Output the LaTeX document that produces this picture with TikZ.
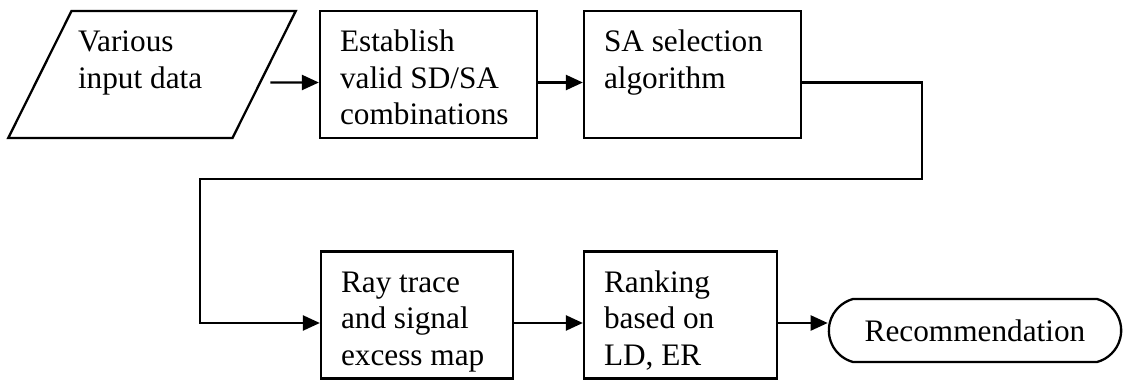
\documentclass[tikz,border=0pt]{standalone}
\usepackage{fontspec}
\setmainfont{Liberation Serif}
\usetikzlibrary{shapes.geometric,shapes.misc,arrows.meta}
\newcommand{\steptext}[2]{\begin{minipage}[t][1.94cm][t]{#1}\raggedright\strut #2\end{minipage}}

\begin{document}
\begin{tikzpicture}[scale=1]
 \tikzstyle{stepbox}=[rectangle, draw, line width=1.3pt, inner xsep=0.4cm, inner ysep=0.3cm, font={\fontsize{17.8}{20.8}\selectfont}]
 \tikzstyle{databox}=[trapezium, trapezium left angle=65.4, trapezium right angle=114.6, trapezium stretches=true, draw, line width=1.3pt, inner xsep=0pt, inner ysep=0.3cm, minimum width=5.76cm, font={\fontsize{17.8}{20.8}\selectfont}]
 \tikzstyle{endbox}=[rounded rectangle, rounded rectangle arc length=150, draw, line width=1.3pt, minimum width=6.08cm, minimum height=1.26cm, font={\fontsize{17.8}{20.8}\selectfont}]
 \tikzstyle{flow}=[-{Triangle[length=0.34cm, width=0.3cm]}, line width=1.3pt]
 \useasboundingbox (0,0) rectangle (22.58,7.62);
 %
 \node[databox] (data) at (3.04, 6.13) {\steptext{2.96cm}{Various\\input data}};
 \node[stepbox] (est) at (8.57, 6.13) {\steptext{3.54cm}{Establish\\valid SD/SA\\combinations}};
 \node[stepbox] (sasel) at (13.85, 6.13) {\steptext{3.54cm}{SA selection\\algorithm}};
 %
 \node[stepbox] (ray) at (8.34, 1.32) {\steptext{3.04cm}{Ray trace\\and signal\\excess map}};
 \node[stepbox] (rank) at (13.61, 1.32) {\steptext{3.06cm}{Ranking\\based on\\LD, ER}};
 \node[endbox] (rec) at (19.5, 1.01) {Recommendation};
 %
 \coordinate (bend) at (4.0, 4.04);
 \coordinate (rankout) at ([yshift=-0.16cm]rank.east);
 %%
 \draw[flow] ([shift={(0.1,-0.16)}]data.east)--([yshift=-0.16cm]est.west);
 \draw[flow] ([yshift=-0.16cm]est.east)--([yshift=-0.16cm]sasel.west);
 \draw[flow] ([yshift=-0.16cm]sasel.east)-- ++(2.4,0) |- (bend) |- ([yshift=-0.16cm]ray.west);
 \draw[flow] ([yshift=-0.16cm]ray.east)--([yshift=-0.16cm]rank.west);
 \draw[flow] (rankout)--(rankout -| rec.west);
\end{tikzpicture}
\end{document}
